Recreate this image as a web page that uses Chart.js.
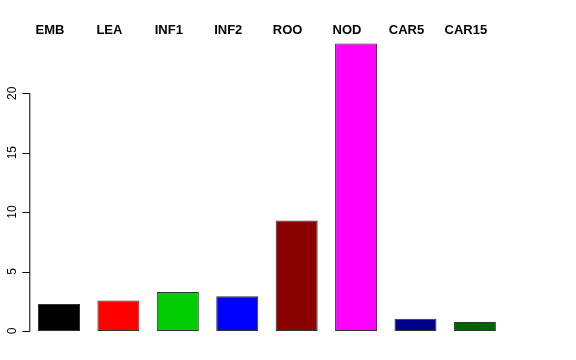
<!DOCTYPE html>
<html><head><meta charset="utf-8">
<script src="https://cdn.jsdelivr.net/npm/chart.js@4"></script>
<style>html,body{margin:0;padding:0;background:#fff}#wrap{width:576px;height:360px}</style>
</head><body><div id="wrap"><canvas id="c" width="576" height="360"></canvas></div>
<script>
const categories = ["EMB","LEA","INF1","INF2","ROO","NOD","CAR5","CAR15"];
const values = [2.27, 2.56, 3.28, 2.92, 9.30, 24.18, 1.03, 0.76];
const barColors = ["#000000","#FF0000","#00CD00","#0000FF","#8B0000","#FF00FF","#00008B","#006400"];
const yTicks = [0, 5, 10, 15, 20];

const rAxis = {
  id: 'rAxis',
  afterDraw(chart) {
    const ctx = chart.ctx, y = chart.scales.y, x = chart.scales.x;
    const ax = chart.chartArea.left;
    ctx.save();
    ctx.strokeStyle = '#000'; ctx.lineWidth = 1;
    ctx.beginPath();
    const y0 = Math.round(y.getPixelForValue(yTicks[0])) + 0.5;
    const y1 = Math.round(y.getPixelForValue(yTicks[yTicks.length-1])) + 0.5;
    ctx.moveTo(ax + 0.5, y0); ctx.lineTo(ax + 0.5, y1);
    yTicks.forEach(t => {
      const py = Math.round(y.getPixelForValue(t)) + 0.5;
      ctx.moveTo(ax + 0.5, py); ctx.lineTo(ax - 7, py);
    });
    ctx.stroke();
    ctx.fillStyle = '#000';
    ctx.font = '12px "Liberation Sans", Arial, sans-serif';
    ctx.textAlign = 'center'; ctx.textBaseline = 'middle';
    yTicks.forEach(t => {
      const py = y.getPixelForValue(t);
      ctx.save(); ctx.translate(ax - 17, py); ctx.rotate(-Math.PI/2);
      ctx.fillText(String(t), 0, 0); ctx.restore();
    });
    ctx.font = 'bold 13px "Liberation Sans", Arial, sans-serif';
    ctx.textBaseline = 'alphabetic';
    categories.forEach((c, i) => {
      ctx.fillText(c, x.getPixelForValue(i) - 9, 34);
    });
    ctx.restore();
  }
};

new Chart(document.getElementById('c'), {
  type: 'bar',
  data: {
    labels: categories,
    datasets: [{
      data: values,
      backgroundColor: barColors,
      borderColor: '#333',
      borderWidth: 1,
      borderSkipped: false,
      barPercentage: 0.707,
      categoryPercentage: 1.0
    }]
  },
  options: {
    responsive: false,
    animation: false,
    devicePixelRatio: 1,
    layout: { padding: { left: 29.3, right: 71.4, top: 32, bottom: 17.5 } },
    plugins: { legend: { display: false }, tooltip: { enabled: false } },
    scales: {
      x: { display: false },
      y: { display: false, min: -0.97, max: 25.15 }
    }
  },
  plugins: [rAxis]
});
</script></body></html>
